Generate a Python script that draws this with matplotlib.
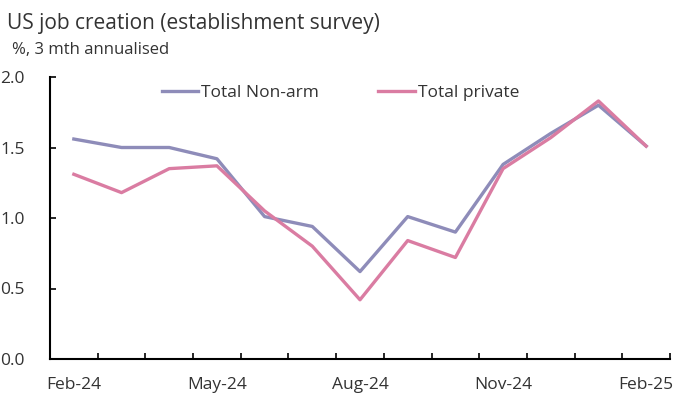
import matplotlib.pyplot as plt

months = ["Feb-24", "Mar-24", "Apr-24", "May-24", "Jun-24", "Jul-24", "Aug-24",
          "Sep-24", "Oct-24", "Nov-24", "Dec-24", "Jan-25", "Feb-25"]
nonfarm = [1.56, 1.50, 1.50, 1.42, 1.01, 0.94, 0.62, 1.01, 0.90, 1.38, 1.60, 1.80, 1.51]
private = [1.31, 1.18, 1.35, 1.37, 1.05, 0.80, 0.42, 0.84, 0.72, 1.35, 1.57, 1.83, 1.51]

plt.rcParams["font.family"] = ["Open Sans", "DejaVu Sans"]

fig = plt.figure(figsize=(6.75, 3.99), dpi=100)
ax = fig.add_axes([50 / 675, 1 - 359 / 399, 620 / 675, 282 / 399])

x = list(range(len(months)))
ax.plot(x, nonfarm, color="#8E8CB9", lw=2.4, label="Total Non-arm")
ax.plot(x, private, color="#DA7CA2", lw=2.4, label="Total private")

ax.set_xlim(-0.5, len(months) - 0.5)
ax.set_ylim(0, 2.0)

# tick marks sit between categories, labels every third month
ax.set_xticks([i - 0.5 for i in range(len(months) + 1)])
ax.set_xticklabels([])
ax.set_xticks(x[::3], minor=True)
ax.set_xticklabels(months[::3], minor=True)
ax.tick_params(axis="x", which="major", direction="in", length=4, width=1.2)
ax.tick_params(axis="x", which="minor", length=0, pad=13, labelsize=12.5, labelcolor="#333333")

ax.set_yticks([0, 0.5, 1.0, 1.5, 2.0])
ax.set_yticklabels(["0.0", "0.5", "1.0", "1.5", "2.0"])
ax.tick_params(axis="y", direction="in", length=4, width=1.2, pad=18, labelsize=12.5, labelcolor="#333333")

for side in ["top", "right"]:
    ax.spines[side].set_visible(False)
for side in ["left", "bottom"]:
    ax.spines[side].set_linewidth(1.5)
    ax.spines[side].set_color("black")

ax.legend(loc="center", bbox_to_anchor=(0.4685, 0.943), ncol=2, frameon=False,
          fontsize=12.5, handlelength=2.1, handletextpad=0.17, columnspacing=3.4,
          labelcolor="#333333")

fig.text(7 / 675, 1 - 24 / 399, "US job creation (establishment survey)", fontsize=15,
         color="#333333", va="center")
fig.text(12 / 675, 1 - 50 / 399, "%, 3 mth annualised", fontsize=12,
         color="#333333", va="center")

fig.savefig("out.png", dpi=100)
